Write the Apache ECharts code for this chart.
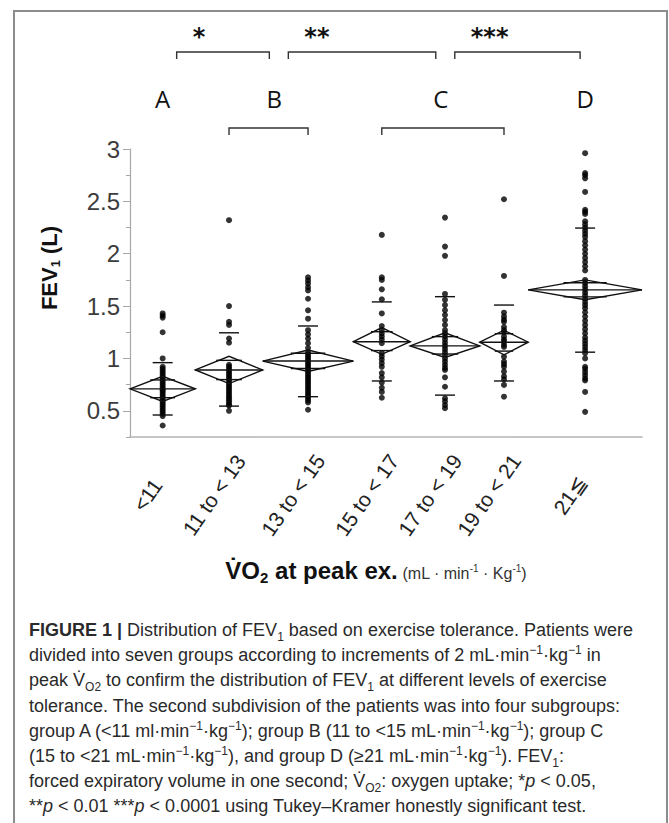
<!DOCTYPE html>
<html>
<head>
<meta charset="utf-8">
<script src="https://cdn.jsdelivr.net/npm/echarts@6/dist/echarts.min.js"></script>
<style>
html, body { margin: 0; padding: 0; background: #fff; overflow: hidden; width: 669px; height: 823px; }
#frame { position: absolute; left: 13px; top: 10px; width: 655px; height: 840px; border: 2px solid #8c8c8c; box-sizing: border-box; }
#chart { position: absolute; left: 0; top: 0; width: 669px; height: 823px; }
#caption { position: absolute; left: 29px; top: 618px; font-family: "Liberation Sans Narrow", "Liberation Sans", Arial, sans-serif; font-size: 18px; line-height: 25.2px; color: #2a2a2a; white-space: nowrap; }
#caption b { font-weight: bold; }
#caption sub, #caption sup { font-size: 12px; line-height: 0; }
</style>
</head>
<body>
<div id="frame"></div>
<div id="chart"></div>
<div id="caption">
<b>FIGURE 1 |</b> Distribution of FEV<sub>1</sub> based on exercise tolerance. Patients were<br>
divided into seven groups according to increments of 2 mL·min<sup>−1</sup>·kg<sup>−1</sup> in<br>
peak V̇<sub>O2</sub> to confirm the distribution of FEV<sub>1</sub> at different levels of exercise<br>
tolerance. The second subdivision of the patients was into four subgroups:<br>
group A (&lt;11 ml·min<sup>−1</sup>·kg<sup>−1</sup>); group B (11 to &lt;15 mL·min<sup>−1</sup>·kg<sup>−1</sup>); group C<br>
(15 to &lt;21 mL·min<sup>−1</sup>·kg<sup>−1</sup>), and group D (≥21 mL·min<sup>−1</sup>·kg<sup>−1</sup>). FEV<sub>1</sub>:<br>
forced expiratory volume in one second; V̇<sub>O2</sub>: oxygen uptake; *<i>p</i> &lt; 0.05,<br>
**<i>p</i> &lt; 0.01 ***<i>p</i> &lt; 0.0001 using Tukey–Kramer honestly significant test.
</div>
<script>
// ---------------- data ----------------
const categories = ['<11', '11 to < 13', '13 to < 15', '15 to < 17', '17 to < 19', '19 to < 21', '21≦'];
// estimated group sizes (x widths are proportional to n)
const groupN = [31, 32, 43, 27, 33, 23, 54];
const groupMean = [0.71, 0.89, 0.975, 1.16, 1.12, 1.155, 1.655];
const ciLower = [0.59, 0.76, 0.875, 1.04, 1.01, 1.035, 1.56];
const ciUpper = [0.83, 1.02, 1.08, 1.295, 1.245, 1.27, 1.75];
const sdLower = [0.46, 0.545, 0.635, 0.785, 0.65, 0.785, 1.06];
const sdUpper = [0.96, 1.245, 1.31, 1.54, 1.59, 1.51, 2.245];

const fev1Lt11 = [1.43, 1.41, 1.39, 1.25, 1.00, 0.92, 0.90, 0.88, 0.86, 0.84, 0.82, 0.80, 0.78, 0.76, 0.74, 0.72, 0.70, 0.69, 0.67, 0.65, 0.63, 0.61, 0.59, 0.57, 0.55, 0.53, 0.51, 0.49, 0.47, 0.45, 0.36];
const fev1From11 = [2.32, 1.50, 1.35, 1.32, 1.19, 1.15, 0.94, 0.92, 0.90, 0.88, 0.86, 0.84, 0.82, 0.80, 0.78, 0.76, 0.74, 0.72, 0.70, 0.68, 0.66, 0.64, 0.62, 0.60, 0.58, 0.56, 0.55, 0.50];
const fev1From13 = [1.775, 1.745, 1.715, 1.68, 1.65, 1.57, 1.46, 1.38, 1.27, 1.23, 1.19, 1.145, 1.10, 1.06, 1.04, 1.02, 1.00, 0.98, 0.96, 0.94, 0.92, 0.90, 0.88, 0.86, 0.84, 0.82, 0.80, 0.78, 0.76, 0.74, 0.72, 0.70, 0.68, 0.66, 0.64, 0.62, 0.60, 0.58, 0.51];
const fev1From15 = [2.18, 1.775, 1.75, 1.66, 1.565, 1.43, 1.31, 1.27, 1.24, 1.21, 1.18, 1.145, 1.05, 1.02, 0.99, 0.955, 0.92, 0.86, 0.82, 0.77, 0.72, 0.68, 0.625];
const fev1From17 = [2.345, 2.068, 1.98, 1.616, 1.56, 1.51, 1.46, 1.415, 1.367, 1.32, 1.27, 1.24, 1.21, 1.18, 1.15, 1.12, 1.09, 1.06, 1.03, 1.00, 0.97, 0.94, 0.91, 0.89, 0.82, 0.73, 0.62, 0.59, 0.555, 0.525];
const fev1From19 = [2.52, 1.788, 1.437, 1.40, 1.37, 1.35, 1.30, 1.27, 1.25, 1.21, 1.18, 1.16, 1.13, 1.11, 1.017, 0.97, 0.945, 0.92, 0.875, 0.83, 0.80, 0.747, 0.635];
const fev1From21 = [2.96, 2.77, 2.75, 2.72, 2.59, 2.42, 2.40, 2.38, 2.31, 2.28, 2.25, 2.22, 2.19, 2.16, 2.12, 2.08, 2.04, 2.00, 1.96, 1.92, 1.88, 1.84, 1.75, 1.72, 1.69, 1.66, 1.63, 1.60, 1.57, 1.54, 1.51, 1.48, 1.44, 1.40, 1.36, 1.32, 1.28, 1.24, 1.20, 1.17, 1.14, 1.11, 1.08, 1.05, 1.00, 0.92, 0.90, 0.87, 0.84, 0.81, 0.79, 0.68, 0.49];

const subgroupLetters = ['A', 'B', 'C', 'D'];
const subgroupFirst = [0, 1, 3, 6];   // index of first group in each subgroup
const subgroupLast = [0, 2, 5, 6];    // index of last group in each subgroup
const comparisonMarks = ['*', '**', '***']; // A vs B, B vs C, C vs D
const yTicks = [0.5, 1, 1.5, 2, 2.5, 3];
const yMin = 0.25, yMax = 3, yMinorStep = 0.25;

// ---------------- derived ----------------
const groupValues = [fev1Lt11, fev1From11, fev1From13, fev1From15, fev1From17, fev1From19, fev1From21];
const totalN = groupN.reduce((a, b) => a + b, 0);
const groupStart = [];
let acc = 0;
groupN.forEach(n => { groupStart.push(acc); acc += n; });
const groupEnd = groupStart.map((s, i) => s + groupN[i]);
const groupCenter = groupStart.map((s, i) => s + groupN[i] / 2);

const scatterData = [];
groupValues.forEach((vals, i) => vals.forEach(v => scatterData.push([groupCenter[i], v])));

const diamondData = groupN.map((n, i) => [groupStart[i], groupEnd[i], groupMean[i], ciLower[i], ciUpper[i], sdLower[i], sdUpper[i]]);

const subStart = subgroupFirst.map(i => groupStart[i]);
const subEnd = subgroupLast.map(i => groupEnd[i]);
const subCenter = subStart.map((s, i) => (s + subEnd[i]) / 2);
const subgroupData = subgroupLetters.map((l, i) => [subStart[i], subEnd[i], groupCenter[subgroupFirst[i]], groupCenter[subgroupLast[i]], i]);
const comparisonData = comparisonMarks.map((m, i) => [subCenter[i], subCenter[i + 1], i]);

// layout constants
const GRID = { left: 130, right: 27, top: 149, bottom: 386 };
const plotW = 669 - GRID.left - GRID.right;
const pxPerUnit = plotW / totalN;
const labelShiftPx = 15;
const labelPos = groupCenter.map(c => c - labelShiftPx / pxPerUnit);

const chart = echarts.init(document.getElementById('chart'), null, { renderer: 'svg' });

const lineCol = '#111';

const option = {
  animation: false,
  backgroundColor: 'transparent',
  grid: { left: GRID.left, right: GRID.right, top: GRID.top, bottom: GRID.bottom, containLabel: false },
  xAxis: {
    type: 'value', min: 0, max: totalN,
    axisLine: { show: true, lineStyle: { color: '#b4b4b4', width: 1.5 } },
    axisTick: { show: false },
    splitLine: { show: false },
    axisLabel: {
      customValues: labelPos,
      formatter: function (v) {
        for (let i = 0; i < labelPos.length; i++) if (Math.abs(labelPos[i] - v) < 1e-6) return categories[i];
        return '';
      },
      rotate: 55, align: 'center', verticalAlign: 'middle', margin: 58,
      fontFamily: '"Liberation Sans", Arial, sans-serif', fontSize: 21, color: '#222'
    },
    name: '{v|V̇O}{s|2}{b| at peak ex.}{u| (mL · min}{p|-1}{u| · Kg}{p|-1}{u|)}',
    nameLocation: 'middle', nameGap: 118,
    nameTextStyle: {
      padding: [0, 20, 0, 0],
      rich: {
        v: { fontFamily: '"Liberation Sans", Arial, sans-serif', fontWeight: 'bold', fontSize: 24, color: '#111', lineHeight: 30 },
        s: { fontFamily: '"Liberation Sans", Arial, sans-serif', fontWeight: 'bold', fontSize: 15, color: '#111', verticalAlign: 'bottom', lineHeight: 30 },
        b: { fontFamily: '"Liberation Sans", Arial, sans-serif', fontWeight: 'bold', fontSize: 24, color: '#111', lineHeight: 30 },
        u: { fontFamily: '"Liberation Sans", Arial, sans-serif', fontSize: 16, color: '#333', lineHeight: 30, padding: [6, 0, 0, 0] },
        p: { fontFamily: '"Liberation Sans", Arial, sans-serif', fontSize: 10, color: '#333', lineHeight: 30, padding: [0, 0, 4, 0] }
      }
    }
  },
  yAxis: [
    {
      type: 'value', min: yMin, max: yMax, position: 'left', offset: 0,
      axisLine: { show: true, lineStyle: { color: '#a8a8a8', width: 1.2 } },
      axisTick: { show: true, customValues: yTicks, length: 7, lineStyle: { color: '#a8a8a8' } },
      axisLabel: {
        customValues: yTicks, margin: 10,
        formatter: v => String(v),
        fontFamily: '"Liberation Sans", Arial, sans-serif', fontSize: 24, color: '#3c3c3c'
      },
      splitLine: { show: false },
      name: '{b|FEV}{s|1}{b| (L)}',
      nameLocation: 'middle', nameGap: 68,
      nameTextStyle: {
        padding: [0, 0, 0, 50],
        rich: {
          b: { fontFamily: '"Liberation Sans", Arial, sans-serif', fontWeight: 'bold', fontSize: 22, color: '#111', lineHeight: 26 },
          s: { fontFamily: '"Liberation Sans", Arial, sans-serif', fontWeight: 'bold', fontSize: 13, color: '#111', verticalAlign: 'bottom', lineHeight: 26 }
        }
      }
    },
    {
      type: 'value', min: yMin, max: yMax, interval: yMinorStep, position: 'left', offset: 0,
      axisLine: { show: false },
      axisTick: { show: true, length: 4, lineStyle: { color: '#a8a8a8' } },
      axisLabel: { show: false },
      splitLine: { show: false }
    }
  ],
  series: [
    {
      name: 'FEV1', type: 'scatter', xAxisIndex: 0, yAxisIndex: 0,
      data: scatterData, symbol: 'circle', symbolSize: 6,
      itemStyle: { color: '#000' }, z: 2, silent: true
    },
    {
      name: 'means diamonds', type: 'custom', xAxisIndex: 0, yAxisIndex: 0,
      data: diamondData, z: 3, silent: true,
      renderItem: function (params, api) {
        const x0 = api.value(0), x1 = api.value(1), m = api.value(2);
        const lo = api.value(3), hi = api.value(4), sl = api.value(5), sh = api.value(6);
        const xc = (x0 + x1) / 2;
        const pL = api.coord([x0, m]), pR = api.coord([x1, m]);
        const pT = api.coord([xc, hi]), pB = api.coord([xc, lo]);
        const cx = pT[0], w = pR[0] - pL[0];
        const yOH = api.coord([xc, m + (hi - m) / Math.SQRT2])[1];
        const yOL = api.coord([xc, m - (m - lo) / Math.SQRT2])[1];
        const ySH = api.coord([xc, sh])[1], ySL = api.coord([xc, sl])[1];
        const st = { stroke: lineCol, lineWidth: 1.4, fill: null };
        const ow = w * 0.19, sw = 10;
        return {
          type: 'group',
          children: [
            { type: 'polygon', shape: { points: [pL, pT, pR, pB] }, style: st },
            { type: 'line', shape: { x1: pL[0], y1: pL[1], x2: pR[0], y2: pR[1] }, style: st },
            { type: 'line', shape: { x1: cx - ow, y1: yOH, x2: cx + ow, y2: yOH }, style: st },
            { type: 'line', shape: { x1: cx - ow, y1: yOL, x2: cx + ow, y2: yOL }, style: st },
            { type: 'line', shape: { x1: cx - sw, y1: ySH, x2: cx + sw, y2: ySH }, style: st },
            { type: 'line', shape: { x1: cx - sw, y1: ySL, x2: cx + sw, y2: ySL }, style: st }
          ]
        };
      }
    },
    {
      name: 'subgroups', type: 'custom', xAxisIndex: 0, yAxisIndex: 0,
      data: subgroupData, clip: false, z: 4, silent: true,
      renderItem: function (params, api) {
        const top = api.coord([0, yMax])[1];
        const s = api.value(0), e = api.value(1), f = api.value(2), l = api.value(3), idx = api.value(4);
        const cx = api.coord([(s + e) / 2, yMax])[0];
        const children = [{
          type: 'text',
          style: { x: cx, y: top - 51, text: subgroupLetters[idx], fill: '#111', font: '24px "Open Sans", "DejaVu Sans", sans-serif', align: 'center', verticalAlign: 'middle' }
        }];
        if (l > f) {
          const xa = api.coord([f, yMax])[0], xb = api.coord([l, yMax])[0];
          const yb = top - 21;
          children.push({ type: 'polyline', shape: { points: [[xa, yb + 7], [xa, yb], [xb, yb], [xb, yb + 7]] }, style: { stroke: '#333', lineWidth: 1.4, fill: null } });
        }
        return { type: 'group', children };
      }
    },
    {
      name: 'comparisons', type: 'custom', xAxisIndex: 0, yAxisIndex: 0,
      data: comparisonData, clip: false, z: 4, silent: true,
      renderItem: function (params, api) {
        const top = api.coord([0, yMax])[1];
        const a = api.coord([api.value(0), yMax])[0] + 14;
        const b = api.coord([api.value(1), yMax])[0] - 5;
        const idx = api.value(2);
        const yb = top - 97;
        return {
          type: 'group',
          children: [
            { type: 'polyline', shape: { points: [[a, yb + 7], [a, yb], [b, yb], [b, yb + 7]] }, style: { stroke: '#333', lineWidth: 1.4, fill: null } },
            { type: 'text', style: { x: a + 16, y: top - 112, text: comparisonMarks[idx], fill: '#111', font: 'bold 24px "DejaVu Sans", sans-serif', align: 'left', verticalAlign: 'middle' } }
          ]
        };
      }
    }
  ]
};
chart.setOption(option);
</script>
</body>
</html>
